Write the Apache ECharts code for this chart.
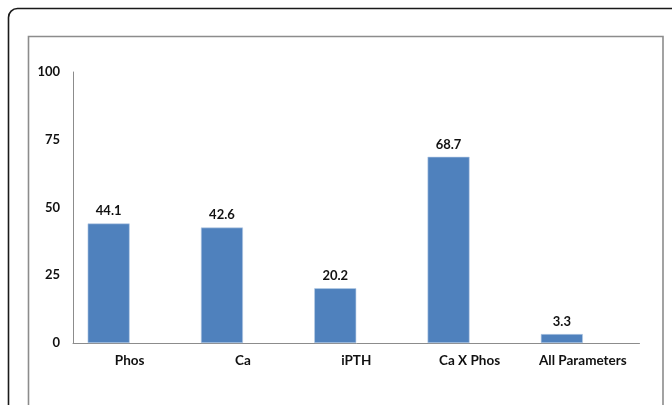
<!DOCTYPE html>
<html>
<head>
<meta charset="utf-8">
<script src="https://cdn.jsdelivr.net/npm/echarts@6/dist/echarts.min.js"></script>
<style>
html,body{margin:0;padding:0;background:#fff;}
#chart{width:672px;height:405px;}
</style>
</head>
<body>
<div id="chart"></div>
<script>
var categories = ['Phos', 'Ca', 'iPTH', 'Ca X Phos', 'All Parameters'];
var values = [44.1, 42.6, 20.2, 68.7, 3.3];
var emptyValues = [null, null, null, null, null];
var yTicks = [0, 25, 50, 75, 100];

var chart = echarts.init(document.getElementById('chart'), null, {renderer: 'canvas'});
var font = 'Lato, "Open Sans", sans-serif';
chart.setOption({
  animation: false,
  backgroundColor: '#fff',
  graphic: [
    {type: 'rect', shape: {x: 8.5, y: 8.5, width: 720, height: 460, r: 9}, style: {fill: 'none', stroke: '#1a1a1a', lineWidth: 1.6}, silent: true},
    {type: 'rect', shape: {x: 28.5, y: 36.5, width: 634.5, height: 420}, style: {fill: 'none', stroke: '#8c8c8c', lineWidth: 1.6}, silent: true}
  ],
  grid: {left: 73, right: 32.5, top: 72, bottom: 62, containLabel: false},
  xAxis: {
    type: 'category',
    data: categories,
    axisLine: {lineStyle: {color: '#8c8c8c', width: 1}},
    axisTick: {show: false},
    axisLabel: {interval: 0, hideOverlap: false, color: '#111', fontWeight: 'bold', fontSize: 13.5, fontFamily: font, margin: 11}
  },
  yAxis: {
    type: 'value',
    min: yTicks[0],
    max: yTicks[yTicks.length - 1],
    interval: 25,
    axisLine: {show: true, lineStyle: {color: '#8c8c8c', width: 1}},
    axisTick: {show: false},
    splitLine: {show: false},
    axisLabel: {color: '#111', fontWeight: 'bold', fontSize: 13, fontFamily: font, margin: 13}
  },
  series: [
    {
      type: 'bar',
      data: values,
      barWidth: 42,
      barGap: '0%',
      itemStyle: {color: '#4f81bd', borderColor: '#b9cde5', borderWidth: 0.6},
      label: {show: true, position: 'top', distance: 6, color: '#111', fontWeight: 'bold', fontSize: 13, fontFamily: font}
    },
    {
      type: 'bar',
      data: emptyValues,
      barWidth: 42,
      barGap: '0%'
    }
  ]
});
</script>
</body>
</html>
